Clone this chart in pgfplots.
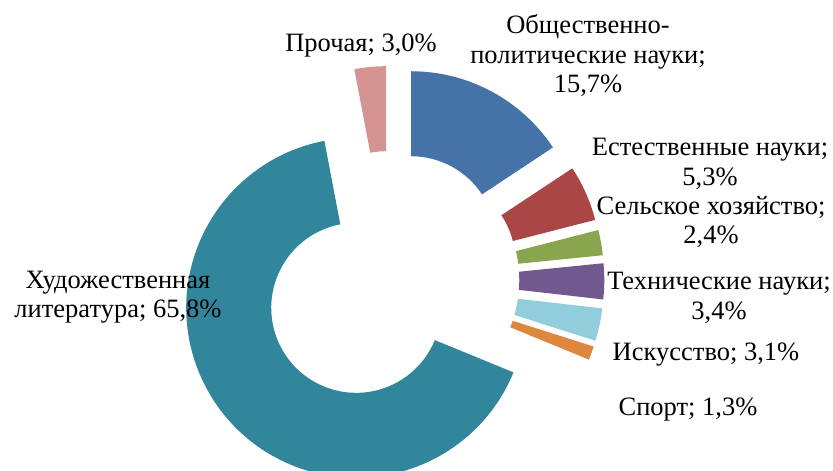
\documentclass[border=0pt]{standalone}
\usepackage{fontspec}
\setmainfont{Liberation Serif}
\usepackage{pgfplots}
\usepackage{pgfplotstable}
\pgfplotsset{compat=1.18}
\definecolor{c1}{HTML}{4572A7}
\definecolor{c2}{HTML}{AA4643}
\definecolor{c3}{HTML}{89A54E}
\definecolor{c4}{HTML}{71588F}
\definecolor{c5}{HTML}{92CDDC}
\definecolor{c6}{HTML}{DE873E}
\definecolor{c7}{HTML}{31869B}
\definecolor{c8}{HTML}{D49492}
\pgfplotstableread{
value col
15.7 c1
5.3 c2
2.4 c3
3.4 c4
3.1 c5
1.3 c6
65.8 c7
3.0 c8
}\piedata
\begin{document}
\begin{tikzpicture}
\useasboundingbox (0,0) rectangle (833bp,471bp);
\begin{axis}[at={(0,0)}, anchor=south west,
  width=833bp, height=471bp, scale only axis,
  xmin=0, xmax=833, ymin=0, ymax=471,
  hide axis, clip=true]
\pgfplotstablegetrowsof{\piedata}
\pgfmathtruncatemacro\NN{\pgfplotsretval-1}
\def\cum{0}
\pgfplotsforeachungrouped \k in {0,...,\NN}{%
  \pgfplotstablegetelem{\k}{value}\of\piedata \let\val\pgfplotsretval
  \pgfplotstablegetelem{\k}{col}\of\piedata \let\col\pgfplotsretval
  \pgfmathsetmacro\sa{90-3.6*\cum}
  \pgfmathsetmacro\sb{90-3.6*(\cum+\val)}
  \pgfmathsetmacro\ma{(\sa+\sb)/2}
  \pgfmathsetmacro\cx{390.3+44*cos(\ma)}
  \pgfmathsetmacro\cy{191+44*sin(\ma)}
  \pgfmathsetmacro\xo{\cx+170*cos(\sa)}
  \pgfmathsetmacro\yo{\cy+170*sin(\sa)}
  \pgfmathsetmacro\xi{\cx+85*cos(\sb)}
  \pgfmathsetmacro\yi{\cy+85*sin(\sb)}
  \edef\temp{\noexpand\fill[\col] (axis cs:\xo,\yo) arc[start angle=\sa, end angle=\sb, radius=170bp] -- (axis cs:\xi,\yi) arc[start angle=\sb, end angle=\sa, radius=85bp] -- cycle;}
  \temp
  \pgfmathsetmacro\cum{\cum+\val}
}
\tikzset{lbl/.style={align=center, inner sep=0pt, font=\fontsize{26.5bp}{29.5bp}\selectfont}}
\node[lbl] at (axis cs:588,415) {Общественно-\\политические науки;\\15,7\%};
\node[lbl] at (axis cs:710,307) {Естественные науки;\\5,3\%};
\node[lbl] at (axis cs:711,249) {Сельское хозяйство;\\2,4\%};
\node[lbl] at (axis cs:719,173) {Технические науки;\\3,4\%};
\node[lbl] at (axis cs:706,116) {Искусство; 3,1\%};
\node[lbl] at (axis cs:688,61) {Спорт; 1,3\%};
\node[lbl] at (axis cs:118,174) {Художественная\\литература; 65,8\%};
\node[lbl] at (axis cs:361,425) {Прочая; 3,0\%};
\end{axis}
\end{tikzpicture}
\end{document}
